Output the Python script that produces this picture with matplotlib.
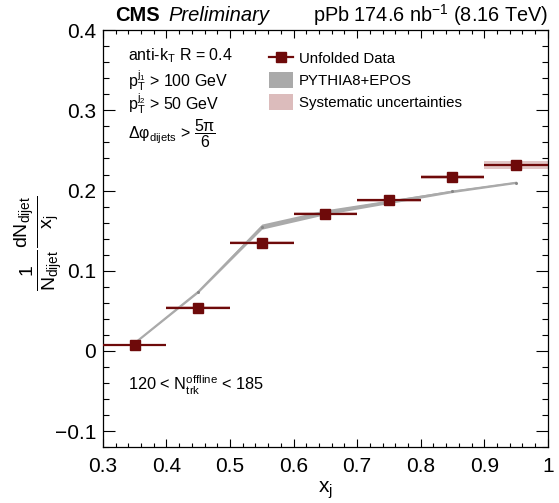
import matplotlib
matplotlib.use("Agg")
import matplotlib.pyplot as plt
from matplotlib.patches import Patch
from matplotlib.lines import Line2D
from matplotlib.ticker import MultipleLocator

plt.rcParams["font.family"] = ["Liberation Sans", "DejaVu Sans"]
plt.rcParams["mathtext.fontset"] = "custom"
plt.rcParams["mathtext.rm"] = "Liberation Sans"
plt.rcParams["mathtext.it"] = "Liberation Sans:italic"
plt.rcParams["mathtext.bf"] = "Liberation Sans:bold"

# x_j bins
xj = [0.35, 0.45, 0.55, 0.65, 0.75, 0.85, 0.95]
xj_halfwidth = [0.05] * 7

# unfolded data
data_y = [0.008, 0.054, 0.135, 0.171, 0.188, 0.217, 0.232]
data_stat = [0.001, 0.0015, 0.002, 0.002, 0.002, 0.002, 0.002]
data_sys = [0.001, 0.0015, 0.002, 0.002, 0.002, 0.0025, 0.0045]

# PYTHIA8+EPOS
pythia_y = [0.010, 0.074, 0.155, 0.173, 0.186, 0.199, 0.210]
pythia_err = [0.001, 0.0015, 0.0032, 0.003, 0.0022, 0.0015, 0.0012]

dark_red = "#6e0a0a"
grey = "#aaaaaa"
pink = "#dcbcbc"

fig = plt.figure(figsize=(5.59, 5.03), dpi=100)
ax = fig.add_axes([0.184, 0.111, 0.796, 0.829])

# systematic boxes
for x, hw, y, s in zip(xj, xj_halfwidth, data_y, data_sys):
    ax.fill_between([x - hw, x + hw], [y - s] * 2, [y + s] * 2,
                    color=pink, lw=0, alpha=0.85, zorder=1)

# pythia band
lo = [y - e for y, e in zip(pythia_y, pythia_err)]
hi = [y + e for y, e in zip(pythia_y, pythia_err)]
ax.fill_between(xj, lo, hi, color=grey, lw=0, zorder=2)
ax.plot(xj, pythia_y, color=grey, lw=1.2, zorder=2)
ax.plot(xj, pythia_y, ls="none", marker="o", ms=1.2, color="#888888", zorder=2)

ax.errorbar(xj, data_y, xerr=xj_halfwidth, yerr=data_stat, fmt="s",
            color=dark_red, ms=7.5, elinewidth=1.6, capsize=0, zorder=3)

ax.set_xlim(0.3, 1.0)
ax.set_ylim(-0.12, 0.4)
ax.xaxis.set_minor_locator(MultipleLocator(0.02))
ax.yaxis.set_minor_locator(MultipleLocator(0.02))
ax.set_xticks([0.3, 0.4, 0.5, 0.6, 0.7, 0.8, 0.9, 1.0])
ax.set_xticklabels(["0.3", "0.4", "0.5", "0.6", "0.7", "0.8", "0.9", "1"])
ax.set_yticks([-0.1, 0, 0.1, 0.2, 0.3, 0.4])
ax.set_yticklabels(["\u22120.1", "0", "0.1", "0.2", "0.3", "0.4"])
ax.tick_params(which="both", direction="in", top=True, right=True,
               labelsize=15, width=0.8)
ax.tick_params(axis="y", which="major", length=8.6, pad=5)
ax.tick_params(axis="y", which="minor", length=4.3)
ax.tick_params(axis="x", which="major", length=6, pad=7)
ax.tick_params(axis="x", which="minor", length=3)
for sp in ax.spines.values():
    sp.set_linewidth(0.9)

ax.set_xlabel(r"x$_\mathrm{j}$", fontsize=15)
ax.xaxis.set_label_coords(0.5, -0.078)
ax.set_ylabel(r"$\frac{1}{\mathrm{N_{dijet}}}\frac{\mathrm{dN_{dijet}}}{\mathrm{x_j}}$",
              fontsize=20)
ax.yaxis.set_label_coords(-0.088, 0.49)

# header
cms = fig.text(0.206, 0.970, "CMS", fontsize=14.5, fontweight="bold", va="center")
ax.annotate("Preliminary", xy=(1, 0), xycoords=cms, xytext=(6, 0),
            textcoords="offset points", fontsize=14.5, style="italic", va="bottom")
fig.text(0.980, 0.970, r"pPb 174.6 nb$^{-1}$ (8.16 TeV)", fontsize=14.3,
         ha="right", va="center")

# labels
tx = 0.056
ax.text(tx, 0.940, r"anti-k$_\mathrm{T}$ R = 0.4", transform=ax.transAxes,
        fontsize=11.5, va="center")
ax.text(tx, 0.880, r"p$_\mathrm{T}^{\mathrm{j_1}}$ > 100 GeV", transform=ax.transAxes,
        fontsize=11.5, va="center")
ax.text(tx, 0.824, r"p$_\mathrm{T}^{\mathrm{j_2}}$ > 50 GeV", transform=ax.transAxes,
        fontsize=11.5, va="center")
ax.text(tx, 0.752, r"Δφ$_\mathrm{dijets}$ > $\dfrac{\mathrm{5π}}{\mathrm{6}}$",
        transform=ax.transAxes, fontsize=11.5, va="center")
ax.text(tx, 0.149, r"120 < N$_\mathrm{trk}^\mathrm{offline}$ < 185", transform=ax.transAxes,
        fontsize=11.8, va="center")

handles = [
    Line2D([], [], color=dark_red, marker="s", ms=7, lw=1.6),
    Patch(facecolor=grey, edgecolor="none"),
    Patch(facecolor=pink, edgecolor="none"),
]
labels = ["Unfolded Data", "PYTHIA8+EPOS", "Systematic uncertainties"]
ax.legend(handles, labels, loc="upper left", bbox_to_anchor=(0.36, 0.966),
          frameon=False, fontsize=10.8, handlelength=1.6, handleheight=1.2,
          handletextpad=0.4, labelspacing=0.42, borderaxespad=0)

fig.savefig("out.png", dpi=100)
